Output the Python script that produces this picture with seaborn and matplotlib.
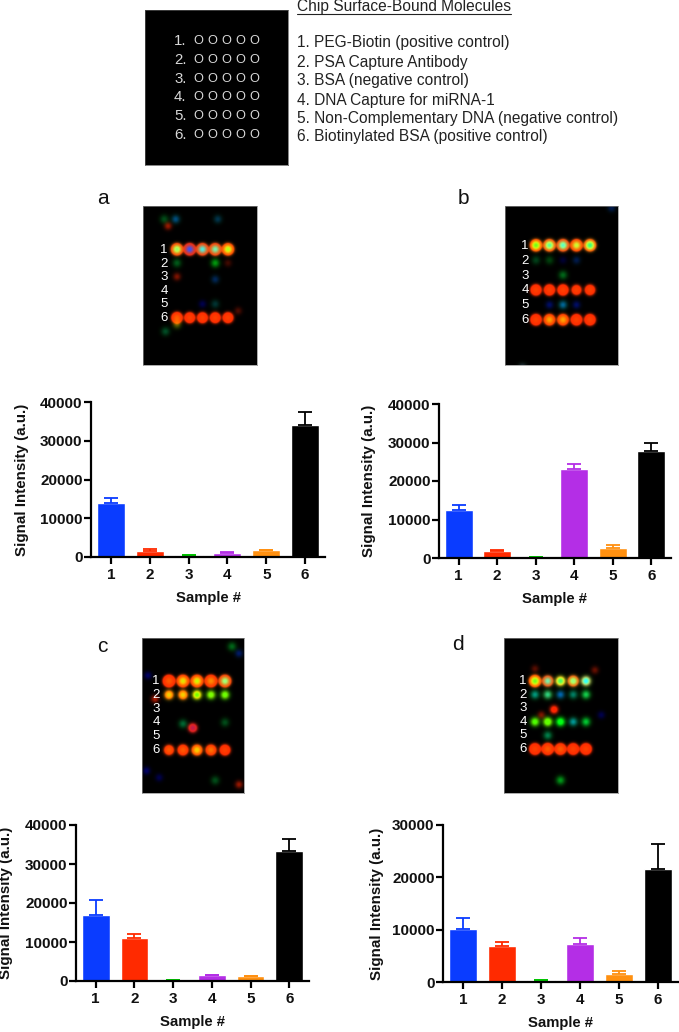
import matplotlib
matplotlib.use("Agg")
import matplotlib.pyplot as plt
import numpy as np
import pandas as pd
import seaborn as sns

W, H = 679, 1032

samples = ["1", "2", "3", "4", "5", "6"]
bar_colors = ["#0a3cff", "#ff2a00", "#00c400", "#b42ee6", "#ff9010", "#000000"]

values_a = [14000, 1500, 500, 1100, 1800, 34000]
errors_a = [1100, 600, 50, 100, 100, 3300]
values_b = [12400, 1900, 200, 23000, 2600, 27700]
errors_b = [1400, 100, 50, 1300, 900, 2100]
values_c = [17000, 11000, 300, 1500, 1200, 33400]
errors_c = [3700, 1100, 50, 150, 150, 3000]
values_d = [10200, 6900, 400, 7300, 1600, 21600]
errors_d = [2000, 700, 50, 1200, 500, 4800]

molecules_title = "Chip Surface-Bound Molecules"
molecules = [
    "1. PEG-Biotin (positive control)",
    "2. PSA Capture Antibody",
    "3. BSA (negative control)",
    "4. DNA Capture for miRNA-1",
    "5. Non-Complementary DNA (negative control)",
    "6. Biotinylated BSA (positive control)",
]

# chip spots: row, column, red, green, blue (read by eye, columns 1-5, rows 1-6)
spots_a = [
    (1, 1, 12, 1.1, 0.4), (1, 2, 12, 0.3, 1.0), (1, 3, 12, 0.9, 0.9), (1, 4, 12, 0.9, 0.7), (1, 5, 12, 1.0, 0.1),
    (6, 1, 8, 0.2, 0), (6, 2, 6, 0.1, 0), (6, 3, 6, 0.1, 0), (6, 4, 6, 0.1, 0), (6, 5, 6, 0.1, 0),
    (2, 1, 0, 0.35, 0.1), (2, 4, 0, 0.6, 0.05), (3, 1, 0.5, 0, 0), (3.2, 4, 0, 0.15, 0.35),
    (5, 3, 0, 0, 0.3), (5, 4, 0, 0.2, 0.2), (2, 5, 0.25, 0, 0), (5.5, 5.8, 0.3, 0, 0),
    (-1.2, 0, 0, 0.3, 0.1), (-1.2, 0.9, 0, 0.3, 0.5), (-0.7, 0.3, 0.6, 0, 0), (-1.2, 4.2, 0, 0.2, 0.3),
    (7, 0.1, 0, 0.3, 0.15), (6.5, 1, 0.3, 0.3, 0),
]
spots_b = [
    (1, 1, 12, 1.3, 0.1), (1, 2, 12, 1.4, 0.6), (1, 3, 12, 1.2, 0.8), (1, 4, 12, 0.9, 0.2), (1, 5, 12, 1.6, 0.5),
    (4, 1, 7, 0.1, 0), (4, 2, 7, 0.1, 0), (4, 3, 7, 0.1, 0), (4, 4, 4, 0.1, 0), (4, 5, 5, 0.1, 0),
    (6, 1, 8, 0.1, 0), (6, 2, 8, 0.5, 0), (6, 3, 8, 0.5, 0), (6, 4, 8, 0.1, 0), (6, 5, 8, 0.1, 0),
    (2, 1, 0, 0.25, 0.1), (2, 2, 0, 0.25, 0.05), (2, 3, 0, 0, 0.2), (2, 4, 0, 0.1, 0.3),
    (3, 3, 0, 0.4, 0.1), (5, 2, 0, 0.05, 0.4), (5, 3, 0, 0.4, 0.6), (5, 4, 0, 0.05, 0.4),
    (9.2, 0, 0.2, 0.2, 0.3), (-1.5, 6.6, 0, 0.1, 0.3),
]
spots_c = [
    (1, 1, 14, 0.2, 0), (1, 2, 14, 0.8, 0), (1, 3, 14, 0.9, 0), (1, 4, 14, 0.4, 0), (1, 5, 14, 1.0, 0.5),
    (2, 1, 2.5, 0.7, 0), (2, 2, 3, 0.7, 0), (2, 3, 2, 1.3, 0), (2, 4, 0.8, 1.1, 0), (2, 5, 0.7, 1.1, 0),
    (6, 1, 4, 0.2, 0), (6, 2, 6, 0.2, 0), (6, 3, 6, 0.7, 0), (6, 4, 6, 0.3, 0), (6, 5, 6, 0.1, 0),
    (4.1, 2, 0, 0.4, 0.2), (4.4, 2.7, 2.5, 0, 0.3), (4, 5, 0, 0.3, 0.1), (2.3, 0, 0.7, 0, 0),
    (-1.5, 5.5, 0, 0.4, 0.1), (8.2, 4.3, 0, 0.3, 0.1), (8.5, 6, 0.6, 0, 0),
    (0.6, -0.5, 0, 0, 0.4), (-1, 6, 0, 0.1, 0.4), (7.5, -0.6, 0, 0, 0.4), (8, 0.3, 0, 0, 0.3),
]
spots_d = [
    (1, 1, 12, 1.3, 0.1), (1, 2, 6, 0.9, 0.7), (1, 3, 3, 1.5, 0.4), (1, 4, 6, 1.1, 0.5), (1, 5, 2.5, 1.4, 1.1),
    (2, 1, 0, 0.6, 0.5), (2, 2, 0.3, 0.8, 0.5), (2, 3, 0, 0.4, 0.7), (2, 4, 0, 0.5, 0.4), (2, 5, 0.1, 0.8, 0.3),
    (4, 1, 0.5, 1.1, 0), (4, 2, 0.8, 1.3, 0), (4, 3, 0, 1.3, 0.1), (4, 4, 0, 0.6, 0.6), (4, 5, 0, 0.8, 0.2),
    (6, 1, 9, 0.1, 0), (6, 2, 11, 0.2, 0), (6, 3, 9, 0.2, 0), (6, 4, 9, 0.1, 0), (6, 5, 9, 0.1, 0),
    (5, 2, 0, 0.5, 0.3), (3.1, 2.5, 1.6, 0, 0), (3.5, 1.5, 0.5, 0, 0), (0.1, 1, 0.35, 0, 0),
    (0.2, 5.7, 0.4, 0, 0), (8.3, 3, 0, 0.6, 0.1), (3.5, 6.2, 0, 0, 0.3),
]

sns.set_theme(style="ticks")
plt.rcParams["font.family"] = ["Liberation Sans", "DejaVu Sans"]

fig = plt.figure(figsize=(W / 100, H / 100), dpi=100, facecolor="white")


def box(x0, y0, x1, y1):
    # pixel box (top-left origin) to figure fractions
    return [x0 / W, 1 - y1 / H, (x1 - x0) / W, (y1 - y0) / H]


def bar_panel(values, errors, x0, x1, y_top, y_zero, y_max, ylab_x):
    ax = fig.add_axes(box(x0, y_top, x1, y_zero))
    df = pd.DataFrame({"sample": samples, "signal": values})
    sns.barplot(data=df, x="sample", y="signal", hue="sample", palette=bar_colors,
                width=0.72, errorbar=None, legend=False, saturation=1, ax=ax)
    for i, (v, e) in enumerate(zip(values, errors)):
        ax.errorbar(i, v, yerr=[[0], [e]], color=bar_colors[i], capsize=4.7,
                    elinewidth=1.3, capthick=1.3, zorder=1)
    ax.set_xlim(-0.51, 5.51)
    ax.set_ylim(0, y_max)
    ax.set_yticks(np.arange(0, y_max + 1, 10000))
    ax.set_facecolor("none")
    sns.despine(ax=ax)
    for side in ["left", "bottom"]:
        ax.spines[side].set_linewidth(1.6)
        ax.spines[side].set_color("black")
    ax.tick_params(axis="y", width=1.6, length=5, color="black", pad=1)
    ax.tick_params(axis="x", width=1.6, length=5, color="black", pad=3)
    for lab in ax.get_xticklabels() + ax.get_yticklabels():
        lab.set_fontsize(11)
        lab.set_fontweight("bold")
        lab.set_color("#111111")
    ax.set_xlabel("Sample #", fontsize=10.7, fontweight="bold", color="#111111")
    ax.set_ylabel("Signal Intensity (a.u.)", fontsize=10.9, fontweight="bold", color="#111111")
    ax.xaxis.set_label_coords(0.5, -41 / (y_zero - y_top))
    ax.xaxis.label.set_va("center")
    ax.yaxis.set_label_coords((ylab_x - x0) / (x1 - x0), 0.5)
    ax.yaxis.label.set_va("center")
    return ax


def chip(spots, x0, y0, x1, y1, col_x, row_y, label_x, letter, letter_xy):
    ax = fig.add_axes(box(x0, y0, x1, y1))
    xs = np.arange(x0, x1, 0.5) + 0.25
    ys = np.arange(y0, y1, 0.5) + 0.25
    xx, yy = np.meshgrid(xs, ys)
    red = np.zeros(xx.shape)
    green = np.zeros(xx.shape)
    blue = np.zeros(xx.shape)
    col_step = (col_x[1] - col_x[0]) / 4
    row_step = (row_y[1] - row_y[0]) / 5
    for row, col, r, g, b in spots:
        cx = col_x[0] + (col - 1) * col_step
        cy = row_y[0] + (row - 1) * row_step
        d2 = (xx - cx) ** 2 + (yy - cy) ** 2
        red += r * np.exp(-d2 / (2 * 2.6 ** 2))
        green += g * np.exp(-d2 / (2 * 3.0 ** 2))
        blue += b * np.exp(-d2 / (2 * 2.6 ** 2))
    # coloured centres sit on top of the red halo
    core = np.clip(np.maximum(green - 0.6, blue), 0, 1)
    red = np.clip(red, 0, 1) * (1 - 0.8 * core)
    green = np.clip(green + 0.15 * red, 0, 1)
    ax.imshow(np.dstack([red, green, np.clip(blue, 0, 1)]), aspect="auto", interpolation="bilinear")
    ax.set_xticks([])
    ax.set_yticks([])
    for s in ax.spines.values():
        s.set_color("#888888")
        s.set_linewidth(0.5)
    for i, y in enumerate(np.linspace(row_y[0], row_y[1], 6)):
        page.text(label_x, y, str(i + 1), color="white", fontsize=9.5, ha="center", va="center", zorder=5)
    page.text(letter_xy[0], letter_xy[1], letter, fontsize=15, color="#111111", ha="center", va="center")


# whole-figure layer in pixel coordinates for the free-standing text
page = fig.add_axes([0, 0, 1, 1], zorder=10)
page.set_xlim(0, W)
page.set_ylim(H, 0)
page.axis("off")

# layout key
key = fig.add_axes(box(145, 10, 288, 165))
key.set_facecolor("black")
key.set_xticks([])
key.set_yticks([])
for s in key.spines.values():
    s.set_color("#555555")
    s.set_linewidth(0.5)
for i, y in enumerate([41, 60, 79, 97, 116, 135]):
    page.text(174, y, f"{i + 1}.", color="#d8d8d8", fontsize=10.8, ha="left", va="center")
    for x in [198, 212, 226, 240, 254]:
        page.text(x, y, "O", color="#d8d8d8", fontsize=9.2, ha="center", va="center")

page.text(297, 7, molecules_title, fontsize=11.2, color="#222222", ha="left", va="center")
page.plot([297, 511], [13.5, 13.5], color="#222222", lw=0.8)
for y, line in zip([43, 62, 81, 100, 119, 137], molecules):
    page.text(297, y, line, fontsize=11.2, color="#222222", ha="left", va="center")

chip(spots_a, 143, 206, 257, 365, (177, 228), (250, 318), 164, "a", (103, 198))
chip(spots_b, 505, 206, 618, 365, (536, 590), (246, 320), 525, "b", (463, 198))
chip(spots_c, 142, 638, 244, 793, (169, 225), (681, 750), 156, "c", (102, 647))
chip(spots_d, 504, 638, 618, 793, (535, 586), (681, 749), 523, "d", (458, 644))

bar_panel(values_a, errors_a, 91, 325, 402, 557, 40000, 22)
bar_panel(values_b, errors_b, 439, 671, 404, 558, 40000, 369)
bar_panel(values_c, errors_c, 76, 309, 825, 981, 40000, 6)
bar_panel(values_d, errors_d, 443, 678, 825, 982, 30000, 377)

fig.savefig("out.png", dpi=100)
